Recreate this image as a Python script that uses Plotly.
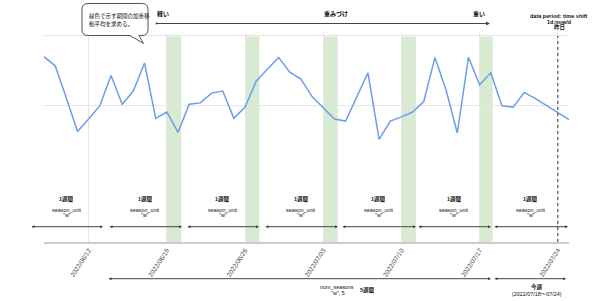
import plotly.graph_objects as go
import pandas as pd

# ---- data ----
dates = pd.date_range("2022-06-08", "2022-07-25", freq="D").strftime("%Y-%m-%d").tolist()
values = [106.9, 105.6, 101.0, 96.2, 98.0, 99.9, 104.2, 100.1, 102.0, 106.0,
          98.1, 99.0, 96.1, 100.1, 100.3, 101.7, 102.0, 98.1, 99.7, 103.4,
          105.1, 106.8, 104.7, 103.7, 101.2, 99.6, 98.0, 97.7, 101.2, 104.6,
          95.1, 97.7, 98.3, 99.0, 100.5, 106.8, 102.1, 96.0, 106.8, 102.9,
          104.6, 99.9, 99.7, 101.8, 100.9, 99.9, 98.9, 97.9]
tick_dates = ["2022-06-12", "2022-06-19", "2022-06-26", "2022-07-03",
              "2022-07-10", "2022-07-17", "2022-07-24"]
tick_labels = ["2022/06/12", "2022/06/19", "2022/06/26", "2022/07/03",
               "2022/07/10", "2022/07/17", "2022/07/24"]
band_starts = ["2022-06-19", "2022-06-26", "2022-07-03", "2022-07-10", "2022-07-17 01:00"]
band_ends = ["2022-06-20 07:00", "2022-06-27 07:00", "2022-07-04 07:00",
             "2022-07-11 07:00", "2022-07-18 04:00"]
yesterday = "2022-07-24"

W, H = 602, 301
L, R, T, B = 44, 33, 33, 59
PW, PH = W - L - R, H - T - B


def px(X):
    return (X - L) / PW


def py(Y):
    return (H - B - Y) / PH


FONT = "Liberation Sans, Arial, Noto Sans CJK JP, sans-serif"

fig = go.Figure()
fig.add_trace(go.Scatter(x=dates, y=values, mode="lines",
                         line=dict(color="#6d9eeb", width=1.5), hoverinfo="skip"))

shapes = []
for s, e in zip(band_starts, band_ends):
    shapes.append(dict(type="rect", xref="x", yref="paper", x0=s, x1=e, y0=0, y1=py(36.5),
                       fillcolor="#d9ead3", line=dict(width=0), layer="below"))
shapes.append(dict(type="line", xref="x", yref="paper", x0=yesterday, x1=yesterday,
                   y0=0, y1=py(36), line=dict(color="#333", width=1, dash="dot")))

# callout bubble (rounded rect with tail)
x0, x1, y0, y1, r = 82, 148, 3.5, 35.5, 6
pts = [
    ("M", x0 + r, y0), ("L", x1 - r, y0), ("Q", x1, y0, x1, y0 + r),
    ("L", x1, y1 - r), ("Q", x1, y1, x1 - r, y1), ("L", 139, y1),
    ("L", 143.5, 43.5), ("L", 130, y1), ("L", x0 + r, y1),
    ("Q", x0, y1, x0, y1 - r), ("L", x0, y0 + r), ("Q", x0, y0, x0 + r, y0),
]
path = ""
for p in pts:
    cmd = p[0]
    coords = p[1:]
    path += cmd + " " + " ".join(
        f"{px(coords[i]):.5f},{py(coords[i + 1]):.5f}" for i in range(0, len(coords), 2)) + " "
path += "Z"
shapes.append(dict(type="path", xref="paper", yref="paper", path=path,
                   fillcolor="white", line=dict(color="#555", width=1)))

ann = []


def text(X, Y, s, size=6, bold=False, color="#111", anchor="center"):
    ann.append(dict(x=px(X), y=py(Y), xref="paper", yref="paper", showarrow=False,
                    text=f"<b>{s}</b>" if bold else s, xanchor=anchor, yanchor="middle",
                    font=dict(size=size, color=color, family=FONT)))


def arrow(X1, X2, Y, size=0.6):
    ann.append(dict(x=px(X2), y=py(Y), xref="paper", yref="paper", ax=X1 - X2, ay=0,
                    text="", showarrow=True, arrowside="end+start",
                    arrowhead=2, startarrowhead=2,
                    arrowsize=size, startarrowsize=size, arrowwidth=1, arrowcolor="#444"))


text(87, 16, "緑色で示す期間の加重移", size=5.5, anchor="left")
text(87, 24, "動平均を求める。", size=5.5, anchor="left")

text(163, 13.5, "軽い", size=6, bold=True)
text(336, 13.5, "重みづけ", size=6, bold=True)
text(479, 13.5, "重い", size=6, bold=True)
ann.append(dict(x=px(490), y=py(23.5), xref="paper", yref="paper", ax=155 - 490, ay=0,
                text="", showarrow=True, arrowside="end+start", arrowhead=2,
                startarrowhead=6, arrowsize=0.8, startarrowsize=0.5,
                arrowwidth=1, arrowcolor="#444"))

text(559, 15.5, "data period: time shift", size=5.5, bold=True)
text(559, 21.5, "1d:now/d", size=5.5, bold=True)
text(559, 27.5, "昨日", size=5.5, bold=True)

segs = [(30, 103), (108, 182), (186, 259), (264, 338), (341, 416), (417, 491), (493, 568)]
for a, b in segs:
    c = (a + b) / 2
    text(c, 199, "1週間", size=5.5, bold=True)
    text(c, 209.5, "season_unit", size=5.4)
    text(c, 214.5, '"w"', size=5.4)
    arrow(a, b, 226.7)

arrow(107, 491, 278.7)
arrow(493, 566, 278.7)
text(336.5, 287.3, "num_seasons", size=5.4)
text(338, 293, '"w", 5', size=5.4)
text(367, 289.5, "5週間", size=5.5, bold=True)
text(537, 287, "今週", size=5.5, bold=True)
text(537, 293.5, "(2022/07/18〜07/24)", size=5.4)

fig.update_layout(
    width=W, height=H, margin=dict(l=L, r=R, t=T, b=B),
    paper_bgcolor="white", plot_bgcolor="white", showlegend=False,
    shapes=shapes, annotations=ann,
    font=dict(family=FONT),
    xaxis=dict(type="date", range=["2022-06-08", "2022-07-25"],
               tickvals=tick_dates, ticktext=tick_labels, tickangle=-57,
               tickfont=dict(size=6.5, color="#444", family=FONT),
               showgrid=True, gridcolor="#e6e6e6", gridwidth=1,
               showline=True, linecolor="#cccccc", linewidth=2, ticks="",
               zeroline=False),
    yaxis=dict(range=[80.43, 110.286], tickvals=[100, 110], showticklabels=False,
               showgrid=True, gridcolor="#e6e6e6", gridwidth=1, zeroline=False,
               showline=False, ticks=""),
)

fig.write_html("out.html")
